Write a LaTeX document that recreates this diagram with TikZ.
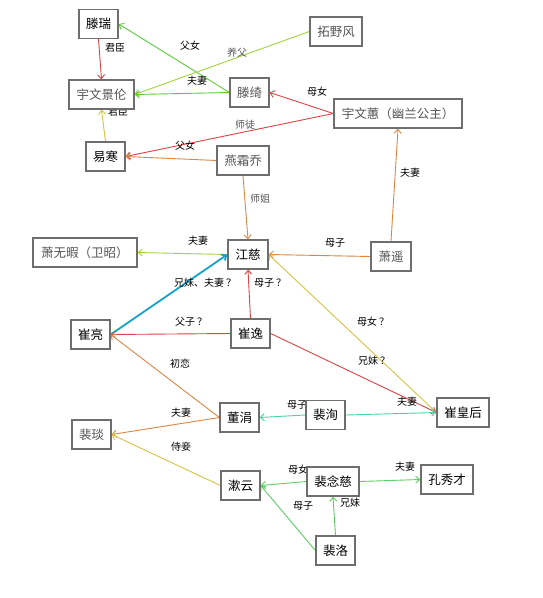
\documentclass[tikz,border=0pt]{standalone}
\usepackage{fontspec}
\newfontfamily\cjk{Noto Sans CJK SC}
\usetikzlibrary{arrows.meta,backgrounds}
\definecolor{boxgray}{HTML}{6E6E6E}
\definecolor{softgray}{HTML}{555555}
\definecolor{cred}{HTML}{D94444}
\definecolor{cgreen}{HTML}{5CCC3C}
\definecolor{cyg}{HTML}{A4D23C}
\definecolor{corange}{HTML}{DC8644}
\definecolor{cyellow}{HTML}{D4C444}
\definecolor{cblue}{HTML}{14A4C8}
\definecolor{cteal}{HTML}{48D4A4}
\definecolor{cgreenb}{HTML}{5CD060}
\newcommand{\qm}{\hspace{2pt}？}
\begin{document}
\begin{tikzpicture}[x=1pt,y=-1pt,
  person/.style={draw=boxgray, line width=1.3pt, fill=white, inner sep=0pt,
    minimum height=29pt, font=\cjk\fontsize{12.5}{14}\selectfont, text=black},
  soft/.style={person, text=softgray},
  rel/.style={line width=0.9pt, -{Straight Barb[length=4pt,width=7pt]}},
  lab/.style={font=\cjk\fontsize{10}{11}\selectfont, inner sep=0pt, text=black},
  slab/.style={lab, text=softgray}]
\useasboundingbox (0,0) rectangle (542,598);
% persons
\node[person, minimum width=39pt] (tengrui) at (98.5,24) {滕瑞};
\node[soft, minimum width=52pt] (tuoye) at (336,31.5) {拓野风};
\node[soft, minimum width=65pt] (jinglun) at (101.5,94.5) {宇文景伦};
\node[soft, minimum width=39pt] (tengqi) at (249.5,92.5) {滕绮};
\node[soft, minimum width=128pt] (yuwenhui) at (398,113.5) {宇文蕙（幽兰公主）};
\node[person, minimum width=39pt] (yihan) at (105.5,156.5) {易寒};
\node[soft, minimum width=52pt] (yanshuang) at (243,160.5) {燕霜乔};
\node[soft, minimum width=104pt] (xiaowuxia) at (85,252.5) {萧无暇（卫昭）};
\node[person, minimum width=40pt] (jiangci) at (248,254.5) {江慈};
\node[soft, minimum width=40pt] (xiaoyao) at (391,256.5) {萧遥};
\node[person, minimum width=39pt] (cuiliang) at (90.5,334.5) {崔亮};
\node[person, minimum width=39pt] (cuiyi) at (250.5,333.5) {崔逸};
\node[person, minimum width=39pt] (dongjuan) at (239.5,417.5) {董涓};
\node[soft, minimum width=39pt] (peiyan) at (91.5,434.5) {裴琰};
\node[person, minimum width=39pt] (peixun) at (325.5,415) {裴洵};
\node[person, minimum width=52pt] (cuihou) at (463,412.5) {崔皇后};
\node[person, minimum width=39pt] (shuyun) at (240.5,485.5) {漱云};
\node[person, minimum width=52pt] (peinianci) at (333,481.5) {裴念慈};
\node[person, minimum width=52pt] (kong) at (447,479.5) {孔秀才};
\node[person, minimum width=39pt] (peiluo) at (335.5,550.5) {裴洛};
% relations
\begin{pgfonlayer}{background}
\fill[white] (0,0) rectangle (542,598);
\draw[rel, cred] (tengrui.south) -- (jinglun.north) node[lab] (l1) at (115,48) {君臣};
\draw[rel, cgreen] (tengqi.west) -- (tengrui.east) node[lab] (l2) at (190,46) {父女};
\draw[rel, cyg] (tuoye.west) -- (jinglun.east) node[slab] (l3) at (237,53) {养父};
\draw[rel, cgreen] (tengqi.west) -- (jinglun.east) node[lab] (l4) at (197,81) {夫妻};
\draw[rel, cred] (yuwenhui.west) -- (tengqi.east) node[lab] (l5) at (317,92) {母女};
\draw[rel, cred] (yuwenhui.west) -- (yihan.east) node[slab] (l6) at (245,125) {师徒};
\draw[rel, corange] (yanshuang.west) -- (yihan.east) node[lab] (l7) at (185,146) {父女};
\draw[rel, cyellow] (yihan.north) -- (jinglun.south) node[lab] (l8) at (118,112) {君臣};
\draw[rel, corange] (yanshuang.south) -- (jiangci.north) node[slab] (l9) at (260,199) {师姐};
\draw[rel, corange] (xiaoyao.north) -- (yuwenhui.south) node[lab] (l10) at (410,173) {夫妻};
\draw[rel, corange] (xiaoyao.west) -- (jiangci.east) node[lab] (l11) at (335,243) {母子};
\draw[rel, cyg] (jiangci.west) -- (xiaowuxia.east) node[lab] (l12) at (198,241) {夫妻};
\draw[rel, cblue, line width=1.8pt] (cuiliang.east) -- (jiangci.west) node[lab] (l13) at (205,283) {兄妹、夫妻\qm};
\draw[rel, cred] (cuiyi.north) -- (jiangci.south) node[lab] (l14) at (270,283) {母子\qm};
\draw[rel, cred] (cuiyi.west) -- (cuiliang.east) node[lab] (l15) at (191,322) {父子\qm};
\draw[rel, cyellow] (cuihou.west) -- (jiangci.east) node[lab] (l16) at (373,322) {母女\qm};
\draw[rel, cred] (cuiyi.east) -- (cuihou.west) node[lab] (l17) at (374,361) {兄妹\qm};
\draw[rel, corange] (dongjuan.west) -- (cuiliang.east) node[lab] (l18) at (180,364) {初恋};
\draw[rel, corange] (dongjuan.west) -- (peiyan.east) node[lab] (l19) at (181,413) {夫妻};
\draw[rel, cyellow] (shuyun.west) -- (peiyan.east) node[lab] (l20) at (181,447) {侍妾};
\draw[rel, cteal] (peixun.west) -- (dongjuan.east) node[lab] (l21) at (297,405) {母子};
\draw[rel, cteal] (peixun.east) -- (cuihou.west) node[lab] (l22) at (407,402) {夫妻};
\draw[rel, cgreenb] (peinianci.west) -- (shuyun.east) node[lab] (l23) at (298,470) {母女};
\draw[rel, cgreenb] (peiluo.west) -- (shuyun.east) node[lab] (l24) at (303,506) {母子};
\draw[rel, cgreenb] (peiluo.north) -- (peinianci.south) node[lab] (l25) at (350,503) {兄妹};
\draw[rel, cgreenb] (peinianci.east) -- (kong.west) node[lab] (l26) at (405,467) {夫妻};
\end{pgfonlayer}
\end{tikzpicture}
\end{document}
